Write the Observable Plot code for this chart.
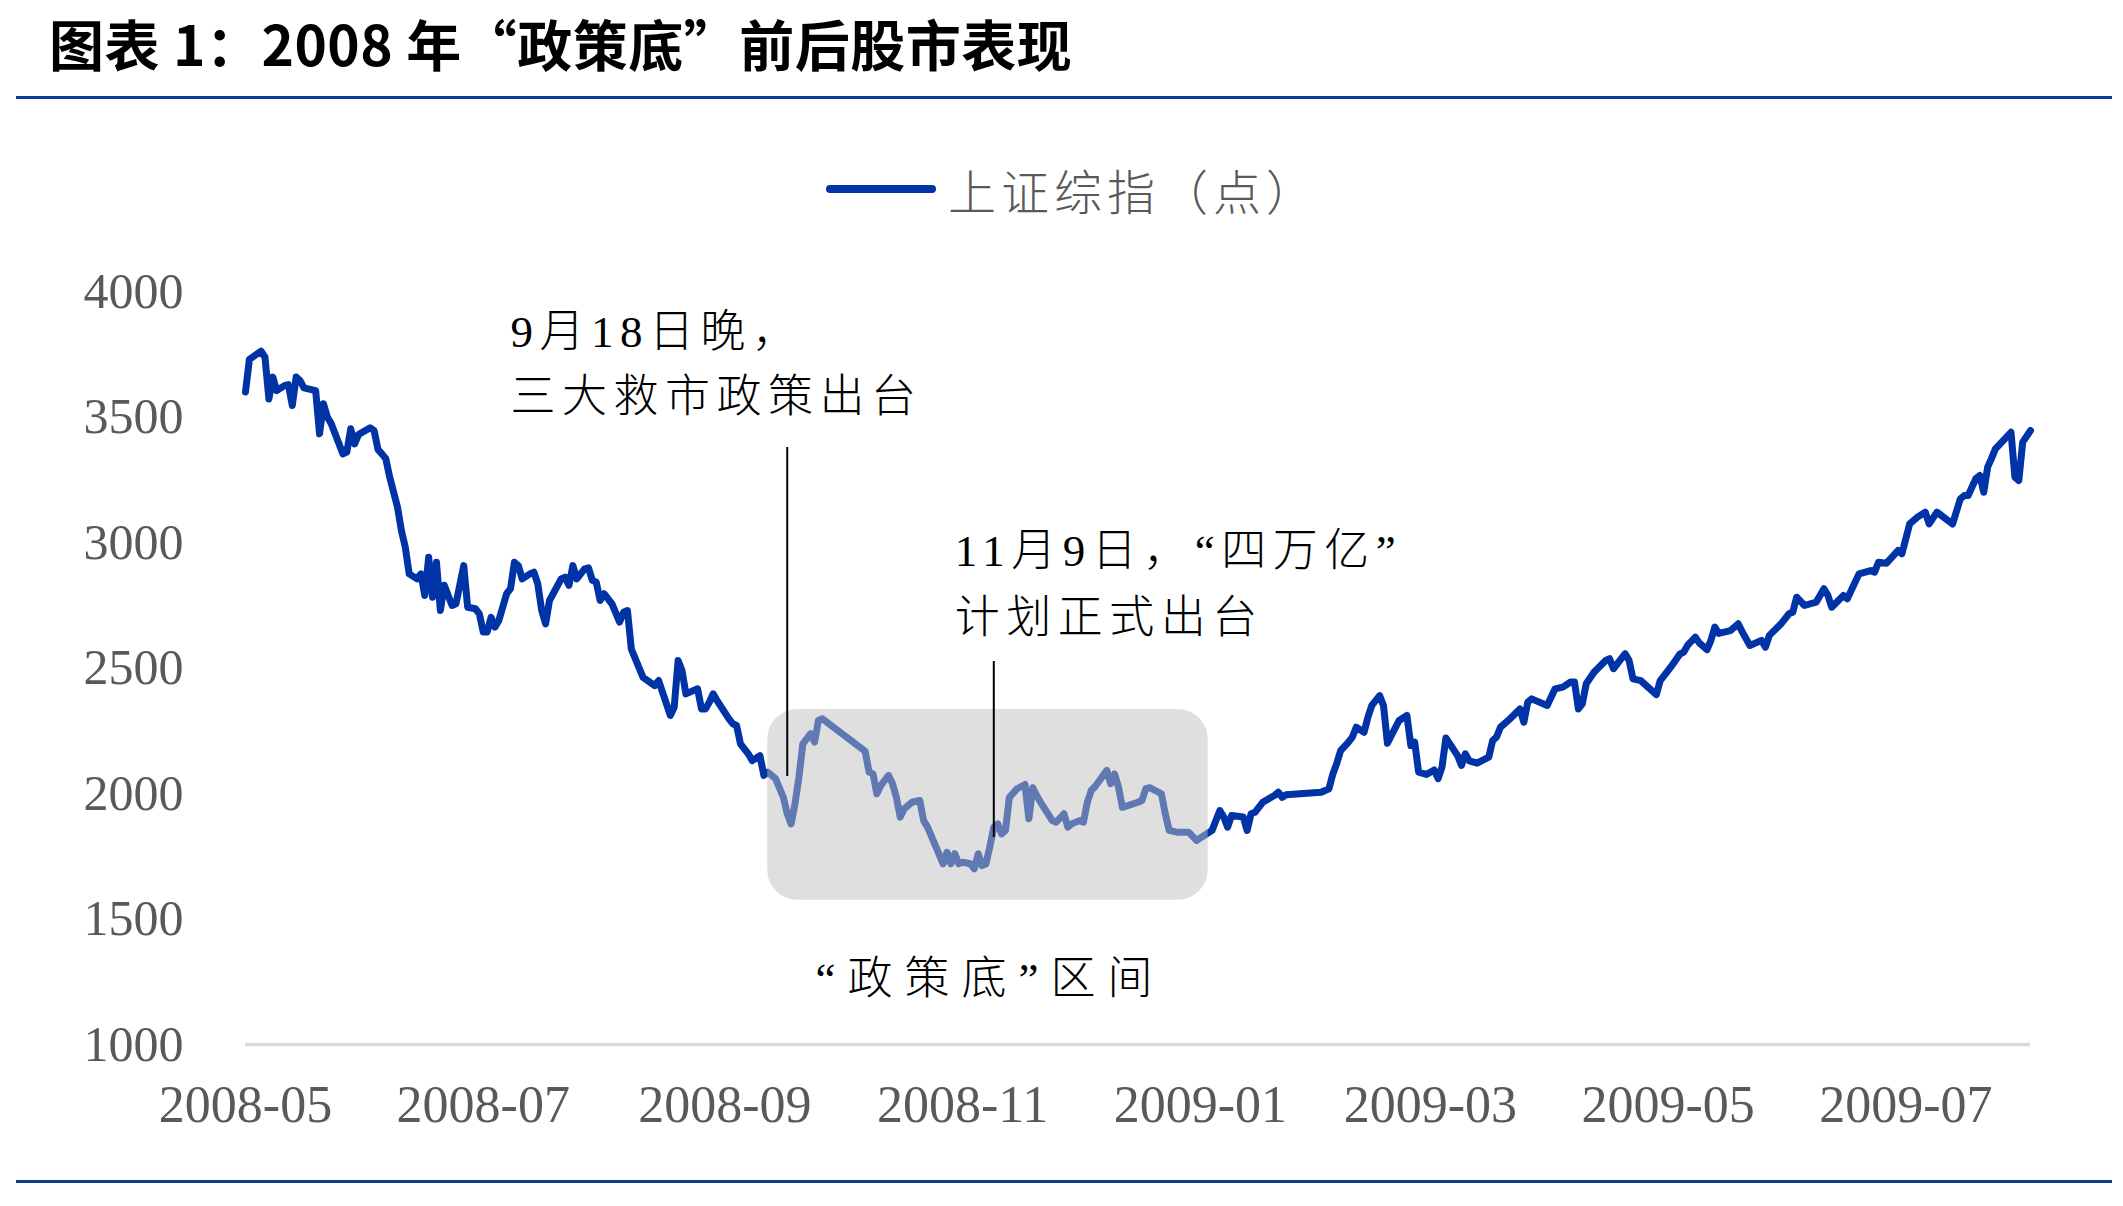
<!DOCTYPE html>
<html>
<head>
<meta charset="utf-8">
<script src="https://cdn.jsdelivr.net/npm/d3@7"></script>
<script src="https://cdn.jsdelivr.net/npm/@observablehq/plot@0.6"></script>
<style>
html, body { margin: 0; padding: 0; background: #fff; }
#wrap { position: relative; width: 2123px; height: 1206px; overflow: hidden; background: #fff; }
#title { position: absolute; left: 49px; top: 2px; height: 80px; display: flex; align-items: center;
  font-family: "Noto Sans CJK SC", sans-serif; font-weight: 700; font-size: 55px; line-height: 1; color: #000; white-space: nowrap; letter-spacing: 0.5px; }
.rule { position: absolute; left: 16px; width: 2096px; height: 3px; background: #0B3D91; }
#legend { position: absolute; left: 826px; top: 149px; height: 80px; display: flex; align-items: center; }
#legend .sw { width: 110px; height: 8px; border-radius: 4px; background: #0033A6; margin-right: 12px; }
#legend .lab { font-family: "Noto Sans CJK SC", sans-serif; font-size: 48px; line-height: 1; color: #595959; font-weight: 300; white-space: nowrap; letter-spacing: 5px; }
#chart { position: absolute; left: 0; top: 240px; }
</style>
</head>
<body>
<div id="wrap">
  <div id="title">图表 1：2008 年“政策底”前后股市表现</div>
  <div class="rule" style="top:96px"></div>
  <div id="legend"><div class="sw"></div><div class="lab" id="legendLabel"></div></div>
  <div id="chart"></div>
  <div class="rule" style="top:1180px"></div>
</div>
<script>
// ---- data ----
const seriesName = "上证综指（点）";

const dates = [
  "2008-05-01","2008-05-02","2008-05-05","2008-05-06","2008-05-07","2008-05-08","2008-05-09","2008-05-11","2008-05-12","2008-05-13","2008-05-14","2008-05-15","2008-05-16","2008-05-19","2008-05-20","2008-05-21","2008-05-22","2008-05-23","2008-05-26","2008-05-27","2008-05-28","2008-05-29","2008-05-30",
  "2008-06-02","2008-06-03","2008-06-04","2008-06-05","2008-06-06","2008-06-07","2008-06-09","2008-06-10","2008-06-11","2008-06-12","2008-06-14","2008-06-15","2008-06-16","2008-06-17","2008-06-18","2008-06-19","2008-06-20","2008-06-21","2008-06-23","2008-06-24","2008-06-26","2008-06-27","2008-06-29","2008-06-30",
  "2008-07-01","2008-07-02","2008-07-03","2008-07-04","2008-07-05","2008-07-07","2008-07-08","2008-07-09","2008-07-10","2008-07-11","2008-07-13","2008-07-14","2008-07-15","2008-07-16","2008-07-17","2008-07-18","2008-07-21","2008-07-22","2008-07-23","2008-07-24","2008-07-25","2008-07-27","2008-07-28","2008-07-29","2008-07-30","2008-07-31",
  "2008-08-01","2008-08-03","2008-08-05","2008-08-06","2008-08-07","2008-08-08","2008-08-11","2008-08-14","2008-08-15","2008-08-18","2008-08-19","2008-08-20","2008-08-21","2008-08-22","2008-08-25","2008-08-26","2008-08-27","2008-08-28","2008-08-29","2008-08-30",
  "2008-09-02","2008-09-03","2008-09-04","2008-09-05","2008-09-07","2008-09-08","2008-09-10","2008-09-11","2008-09-12","2008-09-14","2008-09-16","2008-09-17","2008-09-18","2008-09-19","2008-09-20","2008-09-21","2008-09-23","2008-09-24","2008-09-25","2008-09-26",
  "2008-10-07","2008-10-08","2008-10-09","2008-10-10","2008-10-11","2008-10-13","2008-10-14","2008-10-15","2008-10-16","2008-10-17","2008-10-19","2008-10-21","2008-10-22","2008-10-23","2008-10-27","2008-10-28","2008-10-29","2008-10-30","2008-10-31",
  "2008-11-01","2008-11-03","2008-11-04","2008-11-05","2008-11-06","2008-11-07","2008-11-08","2008-11-09","2008-11-10","2008-11-11","2008-11-12","2008-11-13","2008-11-15","2008-11-17","2008-11-18","2008-11-19","2008-11-20","2008-11-21","2008-11-24","2008-11-25","2008-11-27","2008-11-28","2008-11-29",
  "2008-12-01","2008-12-02","2008-12-03","2008-12-04","2008-12-05","2008-12-08","2008-12-09","2008-12-10","2008-12-11","2008-12-12","2008-12-16","2008-12-17","2008-12-18","2008-12-19","2008-12-22","2008-12-23","2008-12-24","2008-12-26","2008-12-29","2008-12-31",
  "2009-01-04","2009-01-06","2009-01-07","2009-01-08","2009-01-09","2009-01-12","2009-01-13","2009-01-14","2009-01-15","2009-01-16","2009-01-17","2009-01-20","2009-01-21","2009-01-22","2009-01-23",
  "2009-02-01","2009-02-03","2009-02-04","2009-02-05","2009-02-06","2009-02-08","2009-02-09","2009-02-10","2009-02-12","2009-02-13","2009-02-14","2009-02-16","2009-02-17","2009-02-18","2009-02-19","2009-02-21","2009-02-23","2009-02-24","2009-02-25","2009-02-26","2009-02-28",
  "2009-03-02","2009-03-03","2009-03-04","2009-03-05","2009-03-08","2009-03-09","2009-03-10","2009-03-11","2009-03-13","2009-03-16","2009-03-17","2009-03-18","2009-03-19","2009-03-21","2009-03-24","2009-03-25","2009-03-26","2009-03-27","2009-03-31",
  "2009-04-02","2009-04-04","2009-04-06","2009-04-07","2009-04-08","2009-04-09","2009-04-10","2009-04-12","2009-04-15","2009-04-16","2009-04-17","2009-04-20","2009-04-21","2009-04-22","2009-04-24","2009-04-28","2009-04-29","2009-04-30",
  "2009-05-02","2009-05-04","2009-05-05","2009-05-06","2009-05-08","2009-05-09","2009-05-11","2009-05-12","2009-05-13","2009-05-14","2009-05-17","2009-05-19","2009-05-20","2009-05-22","2009-05-25","2009-05-26","2009-05-27","2009-05-30",
  "2009-06-01","2009-06-02","2009-06-03","2009-06-05","2009-06-08","2009-06-10","2009-06-11","2009-06-12","2009-06-15","2009-06-16","2009-06-19","2009-06-22","2009-06-23","2009-06-24","2009-06-26","2009-06-29","2009-06-30",
  "2009-07-02","2009-07-04","2009-07-06","2009-07-07","2009-07-09","2009-07-13","2009-07-15","2009-07-16","2009-07-17","2009-07-19","2009-07-20","2009-07-21","2009-07-22","2009-07-23","2009-07-24","2009-07-28","2009-07-29","2009-07-30","2009-07-31",
  "2009-08-02"
];

const closes = [
  3600,3730,3762,3738,3572,3659,3605,3625,3629,3546,3659,3645,3616,3605,3433,3553,3500,3473,3353,3360,3453,3393,3430,
  3457,3446,3370,3353,3334,3260,3141,3048,2981,2875,2855,2875,2789,2941,2782,2921,2729,2830,2749,2756,2908,2742,2736,2716,
  2643,2643,2702,2663,2689,2796,2816,2921,2908,2855,2875,2882,2835,2729,2676,2769,2855,2862,2829,2908,2855,2895,2899,2849,2842,2769,
  2796,2756,2683,2722,2729,2575,2463,2430,2450,2311,2344,2530,2490,2397,2417,2337,2337,2364,2397,2370,
  2298,2278,2271,2198,2158,2131,2151,2072,2085,2059,1985,1919,1879,1960,2065,2198,2238,2205,2291,2298,
  2168,2085,2078,1999,2032,2072,2040,1985,1906,1939,1965,1972,1892,1866,1720,1766,1720,1760,1720,
  1726,1720,1700,1760,1713,1720,1790,1866,1879,1839,1853,1985,2019,2036,1899,2023,1992,1965,1892,1886,1919,1866,1879,
  1892,1886,1965,2012,2028,2092,2039,2078,2025,1945,1965,1972,2019,2023,1999,1919,1853,1846,1846,1813,
  1853,1932,1906,1866,1912,1906,1853,1919,1925,1945,1965,1992,2005,1985,1995,
  2005,2019,2078,2120,2171,2205,2225,2264,2244,2304,2351,2390,2350,2200,2231,2291,2311,2191,2204,2085,2076,
  2094,2059,2105,2221,2151,2112,2158,2130,2121,2145,2211,2225,2264,2291,2337,2284,2364,2377,2351,
  2417,2424,2444,2444,2337,2357,2437,2483,2530,2537,2497,2557,2530,2457,2450,2394,2450,2470,
  2510,2555,2563,2590,2623,2600,2573,2610,2663,2638,2649,2676,2645,2590,2610,2583,2630,2676,
  2716,2722,2782,2749,2762,2816,2790,2742,2789,2776,2875,2888,2882,2921,2917,2968,2955,
  3074,3101,3121,3074,3121,3074,3174,3187,3187,3255,3267,3200,3300,3335,3373,3439,3260,3247,3400,
  3446
];

const xDomain = ["2008-05-01", "2009-08-02"];
const xTickDates = ["2008-05-01","2008-07-01","2008-09-01","2008-11-01","2009-01-01","2009-03-01","2009-05-01","2009-07-01"];
const yTicks = [1000, 1500, 2000, 2500, 3000, 3500, 4000];

// "政策底" zone
const zoneStart = "2008-09-12", zoneEnd = "2009-01-03";
const zoneLow = 1575, zoneHigh = 2335;
const zoneLabel = "“政策底”区间";
const zoneLabelDate = "2008-11-08", zoneLabelValue = 1259;

// event markers
const eventDates = ["2008-09-17", "2008-11-09"];
const eventTops = [3378, 2526];
const eventBottoms = [2068, 1825];

// annotation text lines
const noteLines = ["9月18日晚，", "三大救市政策出台", "11月9日，“四万亿”", "计划正式出台"];
const noteDates = ["2008-07-08", "2008-07-08", "2008-10-30", "2008-10-30"];
const noteValues = [3837, 3578, 2964, 2697];

// ---- build ----
document.getElementById("legendLabel").textContent = seriesName;

const parse = s => new Date(s);
const series = dates.map((d, i) => ({date: parse(d), close: closes[i]}));
const zone = [{x1: parse(zoneStart), x2: parse(zoneEnd), y1: zoneLow, y2: zoneHigh}];
const events = eventDates.map((d, i) => ({date: parse(d), top: eventTops[i], bottom: eventBottoms[i]}));
const notes = noteLines.map((t, i) => ({text: t, date: parse(noteDates[i]), value: noteValues[i]}));

const noteFont = "'Liberation Serif', 'Noto Sans CJK SC', serif";

const chart = Plot.plot({
  width: 2123,
  height: 930,
  marginLeft: 245,
  marginRight: 93,
  marginTop: 51,
  marginBottom: 126,
  style: {fontFamily: "'Liberation Serif', serif", fontSize: "50px", color: "#595959", background: "transparent", overflow: "visible"},
  x: {type: "utc", domain: xDomain.map(parse), label: null},
  y: {domain: [1000, 4000], label: null},
  marks: [
    Plot.ruleY([1000], {stroke: "#d9d9d9", strokeWidth: 3.5}),
    Plot.axisY({ticks: yTicks, tickSize: 0, tickPadding: 62, fontSize: 50, tickFormat: d => String(d), label: null}),
    Plot.axisX({ticks: xTickDates.map(parse), tickSize: 0, tickPadding: 41, fontSize: 52, tickFormat: d3.utcFormat("%Y-%m"), label: null}),
    Plot.line(series, {x: "date", y: "close", stroke: "#0033A6", strokeWidth: 7, strokeLinejoin: "round", strokeLinecap: "round"}),
    Plot.rect(zone, {x1: "x1", x2: "x2", y1: "y1", y2: "y2", fill: "#bfbfbf", fillOpacity: 0.5, rx: 30}),
    Plot.ruleX(events, {x: "date", y1: "bottom", y2: "top", stroke: "#000", strokeWidth: 2}),
    Plot.text(notes, {x: "date", y: "value", text: "text", textAnchor: "start", lineAnchor: "middle", fontSize: 45, fill: "#000", fontFamily: noteFont}),
    Plot.text([{text: zoneLabel, date: parse(zoneLabelDate), value: zoneLabelValue}], {x: "date", y: "value", text: "text", textAnchor: "middle", lineAnchor: "middle", fontSize: 45, fill: "#000", fontFamily: noteFont})
  ]
});

const textGroups = d3.select(chart).selectAll('g[aria-label="text"]');
textGroups.selectAll("text").style("letter-spacing", "6.5px").style("font-weight", "300");
// the zone label is set a little wider, as in the reference
d3.select(textGroups.nodes()[1]).selectAll("text").style("letter-spacing", "12px");
document.getElementById("chart").appendChild(chart);
</script>
</body>
</html>
